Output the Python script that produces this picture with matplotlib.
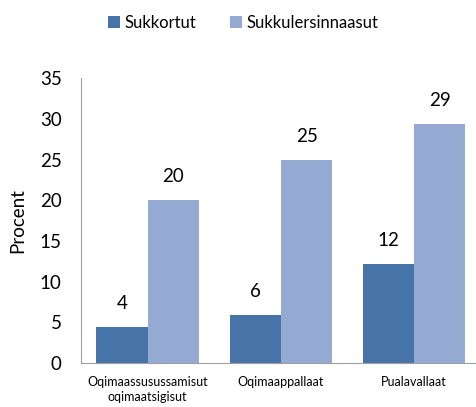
import numpy as np
from matplotlib import pyplot as plt

plt.rcParams['font.family'] = ['Lato', 'DejaVu Sans']

categories = ['Oqimaassusussamisut\noqimaatsigisut', 'Oqimaappallaat', 'Pualavallaat']
series_names = ['Sukkortut', 'Sukkulersinnaasut']
sukkortut = [4.4, 5.9, 12.2]
sukkulersinnaasut = [20.0, 24.9, 29.4]
yticks = [0, 5, 10, 15, 20, 25, 30, 35]

col_dark = '#4673A8'
col_light = '#95AAD2'

fig = plt.figure(figsize=(4.77, 4.07), dpi=100)
ax = fig.add_axes([0.170, 0.108, 0.838, 0.700])

x = np.arange(len(categories))
w = 0.385
b1 = ax.bar(x - w/2, sukkortut, w, color=col_dark, label=series_names[0])
b2 = ax.bar(x + w/2, sukkulersinnaasut, w, color=col_light, label=series_names[1])

for bars in (b1, b2):
    for r in bars:
        ax.annotate('%.0f' % r.get_height(), (r.get_x() + r.get_width()/2, r.get_height()),
                    xytext=(0, 17), textcoords='offset points',
                    ha='center', va='center', fontsize=13.5)

ax.set_xlim(-0.5, 2.5)
ax.set_ylim(0, 35)
ax.set_yticks(yticks)
ax.tick_params(axis='y', length=0, pad=14, labelsize=13.5)
ax.set_xticks(x)
ax.set_xticklabels(categories, fontsize=9, linespacing=1.35)
ax.tick_params(axis='x', length=0, pad=9)
ax.set_ylabel('Procent', fontsize=13.5, labelpad=10)

for s in ('top', 'right'):
    ax.spines[s].set_visible(False)
for s in ('left', 'bottom'):
    ax.spines[s].set_color('#A0A0A0')

fig.legend(loc='upper center', bbox_to_anchor=(0.51, 1.0), ncol=2, frameon=False,
           fontsize=12, handlelength=0.7, handleheight=0.7, handletextpad=0.3,
           columnspacing=2.0)

fig.savefig('out.png', dpi=100)
